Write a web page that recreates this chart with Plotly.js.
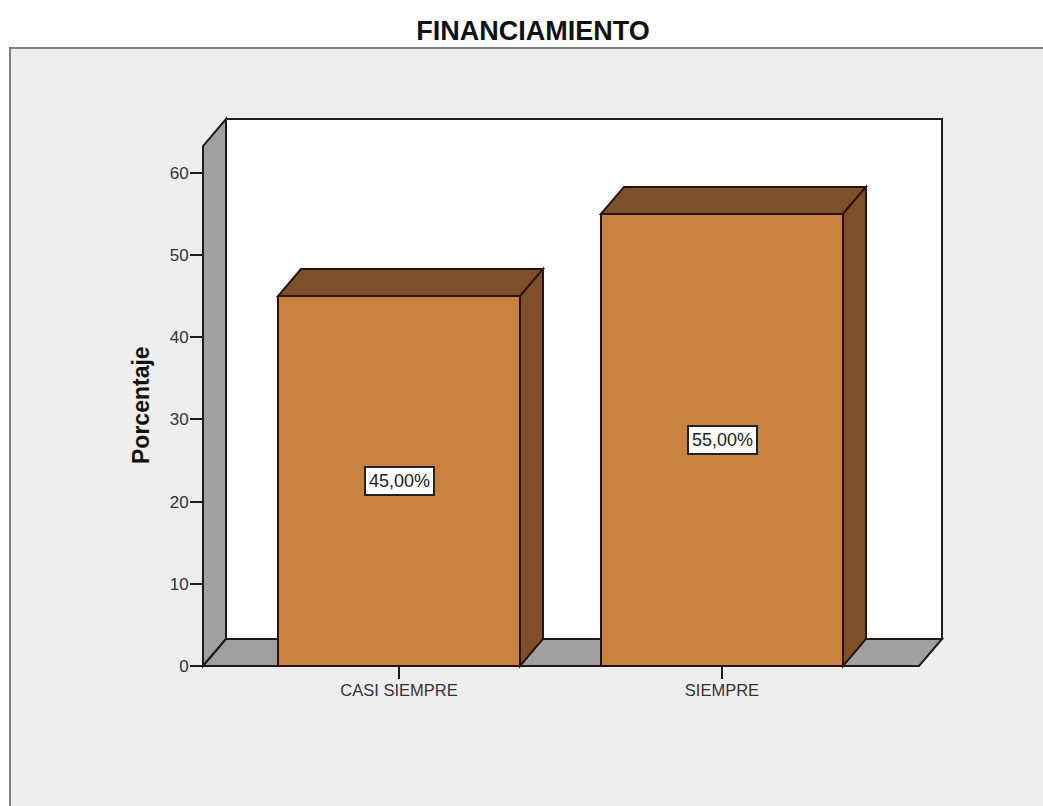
<!DOCTYPE html>
<html>
<head>
<meta charset="utf-8">
<script src="https://cdn.plot.ly/plotly-3.0.1.min.js"></script>
<style>html,body{margin:0;padding:0;background:#fff}#chart{width:1043px;height:806px}</style>
</head>
<body>
<div id="chart"></div>
<script>
const categories = ["CASI SIEMPRE", "SIEMPRE"];
const percentages = [45, 55];
const percentLabels = ["45,00%", "55,00%"];
const yTicks = [0, 10, 20, 30, 40, 50, 60];

const W = 1043, H = 806;
const FONT = '"Liberation Sans", Arial, sans-serif';
const INK = '#1c1c1c', BAR_EDGE = '#2a1206';
const BAR = '#ca833f', BAR_DARK = '#7d5027', WALL = '#a0a0a0';

// pixel calibration of the axes
const pxX = 323, pxY = 8.22, x0Px = 399, y0Px = 666;
const toX = p => (p - x0Px) / pxX;
const toY = p => (y0Px - p) / pxY;
const barWidth = 242 / pxX;
const dx = 23 / pxX, dy = 27 / pxY;
const xL = toX(203), xR = toX(919), yT = toY(146);

function poly(pts, fill, line, width, layer) {
  return {
    type: 'path', xref: 'x', yref: 'y', layer: layer,
    path: 'M' + pts.map(p => p[0] + ',' + p[1]).join('L') + 'Z',
    fillcolor: fill, line: { color: line, width: width }
  };
}

const shapes = [
  // grey panel
  { type: 'rect', xref: 'paper', yref: 'paper', layer: 'below',
    x0: 10 / W, x1: 1.02, y0: -0.02, y1: 1 - 48 / H,
    fillcolor: '#eeeeee', line: { color: '#7f7f7f', width: 2 } },
  // back wall, side wall, floor
  poly([[xL + dx, dy], [xL + dx, yT + dy], [xR + dx, yT + dy], [xR + dx, dy]], '#ffffff', INK, 2, 'below'),
  poly([[xL, 0], [xL, yT], [xL + dx, yT + dy], [xL + dx, dy]], WALL, INK, 2, 'below'),
  poly([[xL, 0], [xL + dx, dy], [xR + dx, dy], [xR, 0]], WALL, INK, 2, 'below')
];

// 3D faces of each bar
percentages.forEach((v, i) => {
  const a = i - barWidth / 2, b = i + barWidth / 2;
  shapes.push(poly([[a, v], [a + dx, v + dy], [b + dx, v + dy], [b, v]], BAR_DARK, BAR_EDGE, 2, 'below'));
  shapes.push(poly([[b, 0], [b, v], [b + dx, v + dy], [b + dx, dy]], BAR_DARK, BAR_EDGE, 2, 'below'));
});

const annotations = percentages.map((v, i) => ({
  x: i, y: v / 2, xref: 'x', yref: 'y', text: percentLabels[i], showarrow: false,
  font: { family: FONT, size: 18, color: '#222222' },
  bgcolor: '#ffffff', bordercolor: '#222222', borderwidth: 2, borderpad: 3
}));

// vertical axis title placed beside the axis
annotations.push({
  xref: 'paper', yref: 'paper', x: 141 / W, y: 1 - 405 / H,
  xanchor: 'center', yanchor: 'middle', textangle: -90, showarrow: false,
  text: '<b>Porcentaje</b>',
  font: { family: FONT, size: 23, color: '#111111' }
});

const trace = {
  type: 'bar',
  x: categories.map((c, i) => i),
  y: percentages,
  width: barWidth,
  marker: { color: BAR, line: { color: BAR_EDGE, width: 2 } },
  hoverinfo: 'skip'
};

const layout = {
  width: W, height: H,
  margin: { l: 0, r: 0, t: 0, b: 0, pad: 0 },
  paper_bgcolor: '#ffffff',
  plot_bgcolor: 'rgba(0,0,0,0)',
  showlegend: false,
  title: {
    text: '<b>FINANCIAMIENTO</b>',
    font: { family: FONT, size: 27, color: '#111111' },
    x: 533 / W, xanchor: 'center', xref: 'paper',
    y: 1 - 31 / H, yanchor: 'middle', yref: 'container'
  },
  xaxis: {
    domain: [198 / W, 948 / W],
    range: [toX(198), toX(948)],
    anchor: 'free', position: 1 - y0Px / H,
    tickmode: 'array', tickvals: categories.map((c, i) => i), ticktext: categories,
    ticks: 'outside', ticklen: 12, tickwidth: 2, tickcolor: INK,
    ticklabelstandoff: -3,
    showgrid: false, zeroline: false, showline: false,
    tickfont: { family: FONT, size: 16.5, color: '#333333' }
  },
  yaxis: {
    domain: [1 - 672 / H, 1 - 114 / H],
    range: [toY(672), toY(114)],
    anchor: 'free', position: 203 / W,
    tickmode: 'array', tickvals: yTicks,
    ticks: 'outside', ticklen: 13, tickwidth: 2, tickcolor: INK,
    ticklabelstandoff: -2,
    showgrid: false, zeroline: false, showline: false,
    tickfont: { family: FONT, size: 17, color: '#333333' }
  },
  shapes: shapes,
  annotations: annotations
};

Plotly.newPlot('chart', [trace], layout, { displayModeBar: false, staticPlot: true });
</script>
</body>
</html>
